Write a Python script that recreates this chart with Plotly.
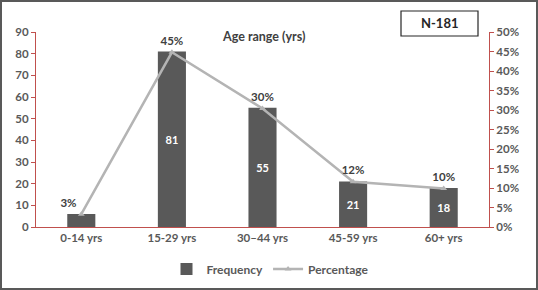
import plotly.graph_objects as go

categories = ["0-14 yrs", "15-29 yrs", "30\u201344 yrs", "45-59 yrs", "60+ yrs"]
frequency = [6, 81, 55, 21, 18]
freq_labels = ["", "81", "55", "21", "18"]
percentage = [3.3, 44.8, 30.4, 11.6, 9.9]
pct_labels = ["3%", "45%", "30%", "12%", "10%"]
left_ticks = list(range(0, 91, 10))
right_ticks = list(range(0, 51, 5))
right_tick_text = [f"{v}%" for v in right_ticks]

FONT = "Lato"
RED = "#c0504d"
GRAY = "#595959"

W, H = 538, 290
L, R, T, B = 36, 49, 32, 63
pw, ph = W - L - R, H - T - B

fig = go.Figure()
fig.add_trace(go.Bar(
    x=categories, y=frequency, name="Frequency",
    marker=dict(color="#595959", line=dict(width=0)),
    width=0.31,
    text=freq_labels, textposition="inside", insidetextanchor="middle",
    textfont=dict(color="white", size=11, family=FONT, weight="bold"),
    yaxis="y",
))
fig.add_trace(go.Scatter(
    x=categories, y=percentage, name="Percentage", yaxis="y2",
    mode="lines+markers+text",
    line=dict(color="#b4b4b4", width=2.5),
    marker=dict(symbol="triangle-up", size=6, color="#b4b4b4"),
    text=pct_labels, textposition=["top left", "top center", "top center", "top center", "top center"],
    textfont=dict(color="#404040", size=11.5, family=FONT, weight="bold"),
))

def px(x):
    return (x - L) / pw

def py(y):
    return (H - B - y) / ph

fig.update_layout(
    width=W, height=H,
    margin=dict(l=L, r=R, t=T, b=B, autoexpand=False),
    paper_bgcolor="white", plot_bgcolor="white",
    font=dict(family=FONT, color=GRAY, size=11),
    showlegend=True,
    legend=dict(orientation="h", x=px(270), xanchor="center", y=py(269), yanchor="middle",
                font=dict(size=12, color=GRAY, family=FONT, weight="bold"),
                itemwidth=30, tracegroupgap=0),
    xaxis=dict(range=[-0.5, 4.5], showline=True, linecolor=RED, linewidth=1,
               ticks="", showgrid=False, automargin=False,
               tickfont=dict(size=11.5, color=GRAY, family=FONT, weight="bold")),
    yaxis=dict(range=[0, 90], tickvals=left_ticks, showline=True, linecolor=RED,
               linewidth=1, ticks="outside", ticklen=4, tickcolor=RED, showgrid=False,
               zeroline=False, automargin=False,
               tickfont=dict(size=11.5, color=GRAY, family=FONT, weight="bold")),
    yaxis2=dict(range=[0, 50], tickmode="array", tickvals=right_ticks,
                ticktext=right_tick_text, overlaying="y",
                side="right", showline=True, linecolor=RED, linewidth=1,
                ticks="outside", ticklen=4, tickcolor=RED, showgrid=False, zeroline=False,
                automargin=False,
                tickfont=dict(size=11.5, color=GRAY, family=FONT, weight="bold")),
    shapes=[
        dict(type="rect", xref="paper", yref="paper",
             x0=px(1), x1=px(W - 1), y0=py(H - 1), y1=py(1),
             line=dict(color="#595959", width=2), layer="above"),
        dict(type="rect", xref="paper", yref="paper",
             x0=px(401), x1=px(478), y0=py(36), y1=py(11),
             line=dict(color="#262626", width=1.2), fillcolor="white"),
    ],
    annotations=[
        dict(text="N-181", xref="paper", yref="paper", x=px(439.5), y=py(23.5),
             showarrow=False, xanchor="center", yanchor="middle",
             font=dict(size=13, color="#262626", family=FONT, weight="bold")),
        dict(text="Age range (yrs)", xref="paper", yref="paper", x=px(263), y=py(36),
             showarrow=False, xanchor="center", yanchor="middle",
             font=dict(size=12.5, color="#404040", family=FONT, weight="bold")),
    ],
)

fig.write_html(
    "out.html",
    config={"displayModeBar": False},
    post_script="document.body.style.margin='0';document.body.style.overflow='hidden';",
)
